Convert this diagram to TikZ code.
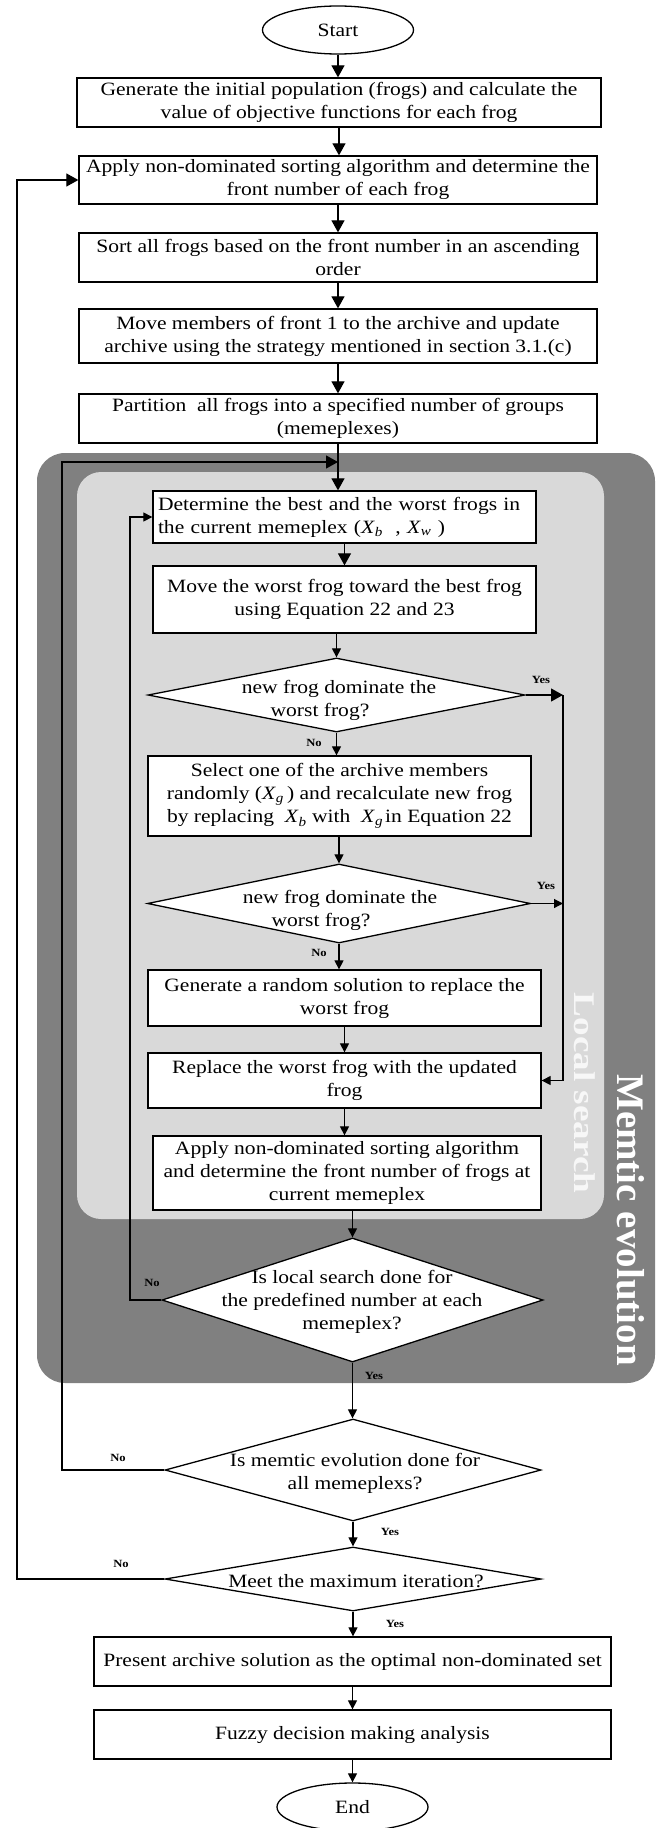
\documentclass[tikz,border=0pt]{standalone}
\usepackage{fontspec}
\setmainfont[FakeStretch=1.146]{Liberation Serif}
\newfontfamily\vfont{Liberation Serif}
\usetikzlibrary{arrows.meta,shapes.geometric}
\definecolor{gdark}{RGB}{128,128,128}
\definecolor{glight}{RGB}{217,217,217}
\newcommand\xsub[1]{\textit{X}\textsubscript{\textit{#1}}}
\begin{document}
\begin{tikzpicture}[x=1pt,y=-1pt,
  txt/.style={font=\fontsize{18.8}{23}\selectfont},
  box/.style={draw, line width=1.3pt, fill=white, inner sep=0pt, align=center, txt},
  term/.style={draw, ellipse, line width=1.3pt, fill=white, inner sep=0pt, minimum width=151pt, minimum height=48pt, txt},
  dia/.style={draw, diamond, line width=1.3pt, fill=white, inner sep=0pt},
  dtxt/.style={inner sep=0pt, align=center, txt},
  lab/.style={inner sep=0pt, font=\bfseries\fontsize{11}{11}\selectfont},
  arrB/.style={-{Triangle[length=12pt,width=13pt]}, line width=1.2pt},
  arrS/.style={-{Triangle[length=9pt,width=9pt]}, line width=1.2pt},
  ln/.style={line width=1.2pt}]
\fill[white] (0,0) rectangle (660,1828);
\useasboundingbox (0,0) rectangle (660,1828);
% background regions
\fill[gdark, rounded corners=28pt] (37,453) rectangle (655,1383);
\fill[glight, rounded corners=24pt] (77,472) rectangle (604,1219);
\node[text=white, rotate=-90, inner sep=0pt, font=\vfont\bfseries\fontsize{39}{39}\selectfont] (mem) at (631,1220) {Memtic evolution};
\node[text=white!94!gray, rotate=-90, inner sep=0pt, font=\vfont\bfseries\fontsize{30}{30}\selectfont] (loc) at (585,1093) {\scalebox{1.24}[1]{Local search}};
% nodes
\node[term] (start) at (338,30) {Start};
\node[box, minimum width=524pt, minimum height=49pt] (b1) at (339,102.5) {Generate the initial population (frogs) and calculate the\\value of objective functions for each frog};
\node[box, minimum width=518pt, minimum height=48pt] (b2) at (338,180) {Apply non-dominated sorting algorithm and determine the\\front number of each frog};
\node[box, minimum width=518pt, minimum height=49pt] (b3) at (338,257.5) {Sort all frogs based on the front number in an ascending\\order};
\node[box, minimum width=518pt, minimum height=54pt] (b4) at (338,336) {Move members of front 1 to the archive and update\\archive using the strategy mentioned in section 3.1.(c)};
\node[box, minimum width=518pt, minimum height=49pt] (b5) at (338,418.5) {Partition~ all frogs into a specified number of groups\\(memeplexes)};
\node[box, text width=373pt, inner xsep=5pt, align=left, minimum height=52pt] (b6) at (344.5,517) {Determine the best and the worst frogs in\\the current memeplex (\xsub{b}~ , \xsub{w}~)};
\node[box, minimum width=383pt, minimum height=67pt] (b7) at (344.5,599.5) {Move the worst frog toward the best frog\\using Equation 22 and 23};
\node[dia, minimum width=377pt, minimum height=74pt] (d1) at (336.5,695) {};
\node[dtxt] (t1) at (339,700) {new frog dominate the\\worst frog?\kern38pt};
\node[box, minimum width=383pt, minimum height=80pt] (b8) at (339.5,796) {Select one of the archive members\\randomly (\xsub{g}\,) and recalculate new frog\\by replacing~ \xsub{b} with~ \xsub{g}\kern2pt in Equation 22};
\node[dia, minimum width=383pt, minimum height=79pt] (d2) at (339,903.5) {};
\node[dtxt] (t2) at (340,910) {new frog dominate the\\worst frog?\kern38pt};
\node[box, minimum width=393pt, minimum height=56pt] (b9) at (344.5,998) {Generate a random solution to replace the\\worst frog};
\node[box, minimum width=393pt, minimum height=55pt] (b10) at (344.5,1080.5) {Replace the worst frog with the updated\\frog};
\node[box, minimum width=388pt, minimum height=74pt] (b11) at (347,1173) {Apply non-dominated sorting algorithm\\and determine the front number of frogs at\\current memeplex};
\node[dia, minimum width=381pt, minimum height=124pt] (d3) at (352.5,1300) {};
\node[dtxt] (t3) at (352,1302) {Is local search done for\\the predefined number at each\\memeplex?};
\node[dia, minimum width=376pt, minimum height=102pt] (d4) at (353,1470) {};
\node[dtxt] (t4) at (355,1473) {Is memtic evolution done for\\all memeplexs?};
\node[dia, minimum width=376pt, minimum height=64pt] (d5) at (353,1579) {};
\node[dtxt] (t5) at (356,1581) {Meet the maximum iteration?};
\node[box, minimum width=517pt, minimum height=49pt] (b12) at (352.5,1661.5) {Present archive solution as the optimal non-dominated set};
\node[box, minimum width=517pt, minimum height=49pt] (b13) at (352.5,1734.5) {Fuzzy decision making analysis};
\node[term] (end) at (352.5,1807) {End};
% coordinates
\coordinate (j1) at (338,462);
\coordinate (r1) at (563,695);
\coordinate (l3) at (130,1300);
\coordinate (l4) at (62,1470);
\coordinate (l5) at (17,1579);
% main flow
\draw[arrB] (start.south) -- (start.south |- b1.north);
\draw[arrB] (b1.south) -- (b1.south |- b2.north);
\draw[arrB] (b2.south) -- (b2.south |- b3.north);
\draw[arrB] (b3.south) -- (b3.south |- b4.north);
\draw[arrB] (b4.south) -- (b4.south |- b5.north);
\draw[ln] (b5.south) -- (j1);
\draw[arrB] (j1) -- (j1 |- b6.north);
\draw[arrB] (b6.south) -- (b6.south |- b7.north);
\draw[arrS] (d1.north |- b7.south) -- (d1.north);
\draw[arrS] (d1.south) -- (d1.south |- b8.north);
\draw[arrS] (d2.north |- b8.south) -- (d2.north);
\draw[arrS] (d2.south) -- (d2.south |- b9.north);
\draw[arrS] (b9.south) -- (b10.north);
\draw[arrS] (b10.south) -- (b10.south |- b11.north);
\draw[arrS] (d3.north |- b11.south) -- (d3.north);
\draw[arrS] (d3.south) -- (d3.south |- d4.north);
\draw[arrS] (d4.south) -- (d4.south |- d5.north);
\draw[arrS] (d5.south) -- (d5.south |- b12.north);
\draw[arrS] (b12.south) -- (b13.north);
\draw[arrS] (b13.south) -- (end.north);
% yes branches
\draw[arrB] (d1.east) -- (r1);
\draw[arrS] (d2.east) -- (d2.east -| r1);
\draw[arrS] (r1) |- (b10.east);
% no branches
\draw[arrS] (d3.west) -- (d3.west -| l3) |- (b6.west);
\draw[arrB] (d4.west) -- (d4.west -| l4) |- (j1);
\draw[arrB] (d5.west) -- (d5.west -| l5) |- (b2.west);
% labels
\node[lab] (y1) at (541,680) {Yes};
\node[lab] (n1) at (314,743) {No};
\node[lab] (y2) at (546,886) {Yes};
\node[lab] (n2) at (319,953) {No};
\node[lab] (n3) at (152,1283) {No};
\node[lab] (y3) at (374,1376) {Yes};
\node[lab] (n4) at (118,1458) {No};
\node[lab] (y4) at (390,1532) {Yes};
\node[lab] (n5) at (121,1564) {No};
\node[lab] (y5) at (395,1624) {Yes};
\end{tikzpicture}
\end{document}
